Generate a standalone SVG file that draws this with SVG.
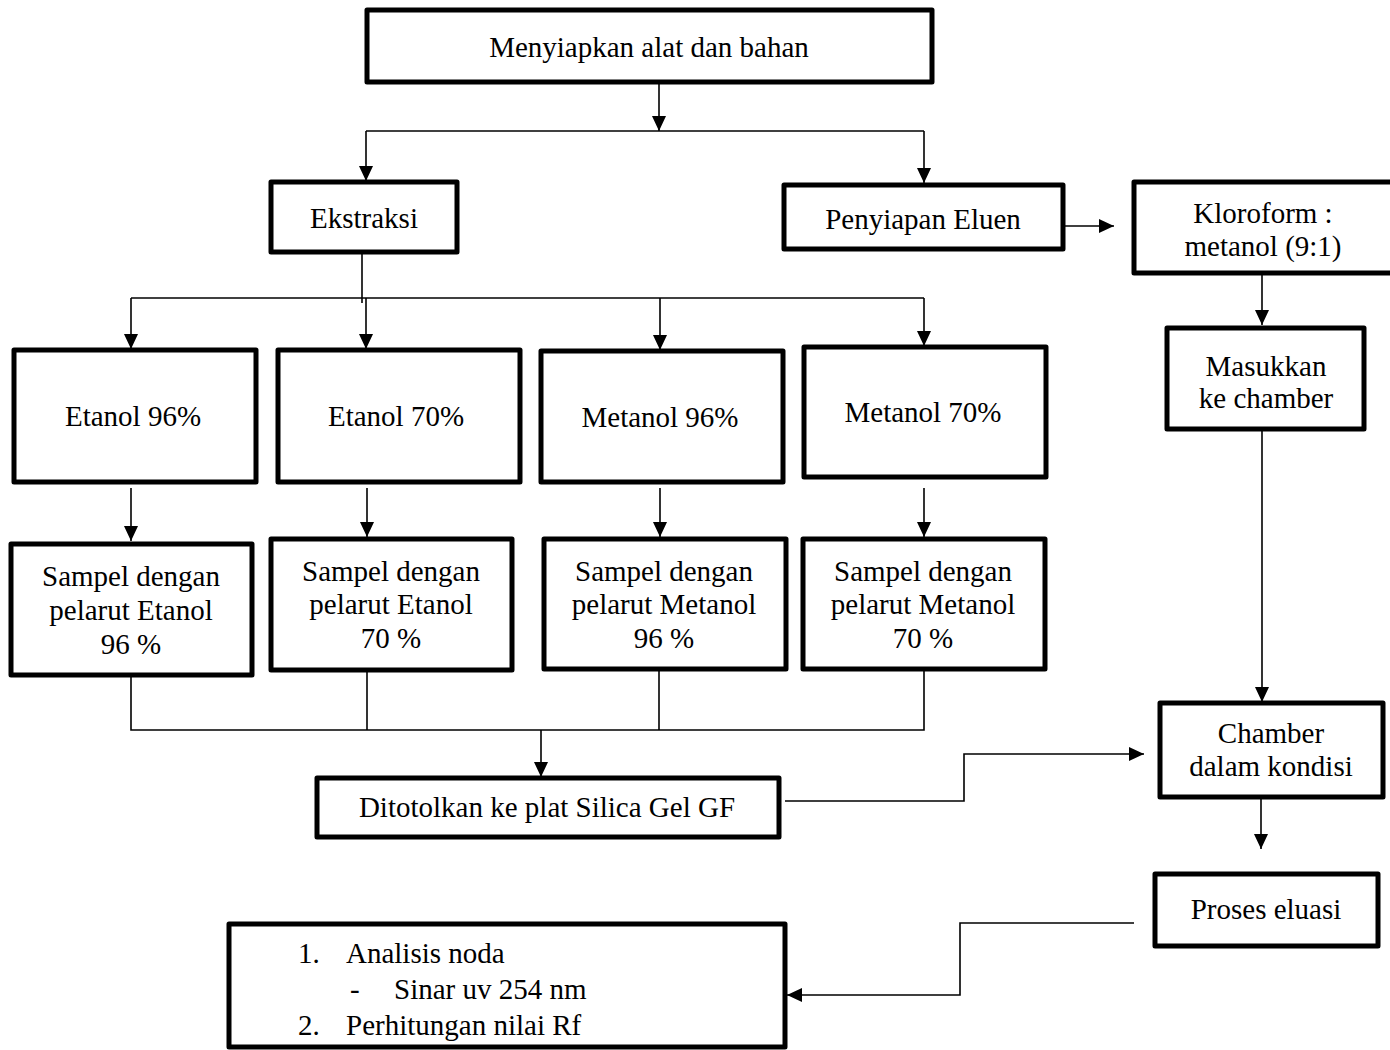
<svg xmlns="http://www.w3.org/2000/svg" width="1390" height="1050" viewBox="0 0 1390 1050">
<style>
  .box { fill: #fff; stroke: #000; stroke-width: 5; stroke-linejoin: round; }
  .edge { fill: none; stroke: #000; stroke-width: 1.6; }
  text { font-family: "Liberation Serif", "Times New Roman", serif; font-size: 29px; fill: #000; }
  .c { text-anchor: middle; }
</style>
<defs>
  <marker id="ah" markerUnits="userSpaceOnUse" markerWidth="15" markerHeight="14" refX="15" refY="7" orient="auto">
    <path d="M0,0 L15,7 L0,14 z" fill="#000"/>
  </marker>
</defs>
<rect width="1390" height="1050" fill="#fff"/>

<g id="connectors">
  <path class="edge" d="M659,82 V131" marker-end="url(#ah)"/>
  <path class="edge" d="M366,131 H924"/>
  <path class="edge" d="M366,131 V181" marker-end="url(#ah)"/>
  <path class="edge" d="M924,131 V183" marker-end="url(#ah)"/>
  <path class="edge" d="M1058,226 H1114" marker-end="url(#ah)"/>
  <path class="edge" d="M362,253 V303"/>
  <path class="edge" d="M131,298 H924"/>
  <path class="edge" d="M131,298 V349" marker-end="url(#ah)"/>
  <path class="edge" d="M366,298 V349" marker-end="url(#ah)"/>
  <path class="edge" d="M660,298 V350" marker-end="url(#ah)"/>
  <path class="edge" d="M924,298 V346" marker-end="url(#ah)"/>
  <path class="edge" d="M131,488 V541" marker-end="url(#ah)"/>
  <path class="edge" d="M367,488 V537" marker-end="url(#ah)"/>
  <path class="edge" d="M660,488 V537" marker-end="url(#ah)"/>
  <path class="edge" d="M924,488 V537" marker-end="url(#ah)"/>
  <path class="edge" d="M131,675 V730 H924 V670"/>
  <path class="edge" d="M367,670 V730"/>
  <path class="edge" d="M659,669 V730"/>
  <path class="edge" d="M541,730 V777" marker-end="url(#ah)"/>
  <path class="edge" d="M785,801 H964 V754 H1144" marker-end="url(#ah)"/>
  <path class="edge" d="M1262,274 V325" marker-end="url(#ah)"/>
  <path class="edge" d="M1262,429 V702" marker-end="url(#ah)"/>
  <path class="edge" d="M1261,797 V849" marker-end="url(#ah)"/>
  <path class="edge" d="M1134,923 H960 V995 H787" marker-end="url(#ah)"/>
</g>

<g id="n-menyiapkan">
  <rect class="box" x="367" y="10" width="565" height="72"/>
  <text class="c" x="649" y="57">Menyiapkan alat dan bahan</text>
</g>
<g id="n-ekstraksi">
  <rect class="box" x="271" y="182" width="186" height="70"/>
  <text class="c" x="364" y="228">Ekstraksi</text>
</g>
<g id="n-penyiapan-eluen">
  <rect class="box" x="784" y="185" width="279" height="64"/>
  <text class="c" x="923" y="229">Penyiapan Eluen</text>
</g>
<g id="n-kloroform">
  <rect class="box" x="1134" y="182" width="262" height="91"/>
  <text class="c" x="1263" y="223">Kloroform :</text>
  <text class="c" x="1263" y="256">metanol (9:1)</text>
</g>
<g id="n-masukkan">
  <rect class="box" x="1167" y="328" width="197" height="101"/>
  <text class="c" x="1266" y="376">Masukkan</text>
  <text class="c" x="1266" y="408">ke chamber</text>
</g>
<g id="n-etanol96">
  <rect class="box" x="14" y="350" width="242" height="132"/>
  <text class="c" x="133" y="426">Etanol 96%</text>
</g>
<g id="n-etanol70">
  <rect class="box" x="278" y="350" width="242" height="132"/>
  <text class="c" x="396" y="426">Etanol 70%</text>
</g>
<g id="n-metanol96">
  <rect class="box" x="541" y="351" width="242" height="131"/>
  <text class="c" x="660" y="427">Metanol 96%</text>
</g>
<g id="n-metanol70">
  <rect class="box" x="804" y="347" width="242" height="130"/>
  <text class="c" x="923" y="422">Metanol 70%</text>
</g>
<g id="n-sampel-e96">
  <rect class="box" x="11" y="544" width="241" height="131"/>
  <text class="c" x="131" y="586">Sampel dengan</text>
  <text class="c" x="131" y="620">pelarut Etanol</text>
  <text class="c" x="131" y="654">96 %</text>
</g>
<g id="n-sampel-e70">
  <rect class="box" x="271" y="539" width="241" height="131"/>
  <text class="c" x="391" y="581">Sampel dengan</text>
  <text class="c" x="391" y="614">pelarut Etanol</text>
  <text class="c" x="391" y="648">70 %</text>
</g>
<g id="n-sampel-m96">
  <rect class="box" x="544" y="539" width="242" height="130"/>
  <text class="c" x="664" y="581">Sampel dengan</text>
  <text class="c" x="664" y="614">pelarut Metanol</text>
  <text class="c" x="664" y="648">96 %</text>
</g>
<g id="n-sampel-m70">
  <rect class="box" x="803" y="539" width="242" height="130"/>
  <text class="c" x="923" y="581">Sampel dengan</text>
  <text class="c" x="923" y="614">pelarut Metanol</text>
  <text class="c" x="923" y="648">70 %</text>
</g>
<g id="n-ditotolkan">
  <rect class="box" x="317" y="778" width="462" height="59"/>
  <text class="c" x="547" y="817">Ditotolkan ke plat Silica Gel GF</text>
</g>
<g id="n-chamber">
  <rect class="box" x="1160" y="703" width="223" height="94"/>
  <text class="c" x="1271" y="743">Chamber</text>
  <text class="c" x="1271" y="776">dalam kondisi</text>
</g>
<g id="n-proses-eluasi">
  <rect class="box" x="1155" y="874" width="223" height="72"/>
  <text class="c" x="1266" y="919">Proses eluasi</text>
</g>
<g id="n-analisis">
  <rect class="box" x="229" y="924" width="556" height="123"/>
  <text x="298" y="963">1.</text>
  <text x="346" y="963">Analisis noda</text>
  <text x="350" y="999">-</text>
  <text x="394" y="999">Sinar uv 254 nm</text>
  <text x="298" y="1035">2.</text>
  <text x="346" y="1035">Perhitungan nilai Rf</text>
</g>
</svg>
